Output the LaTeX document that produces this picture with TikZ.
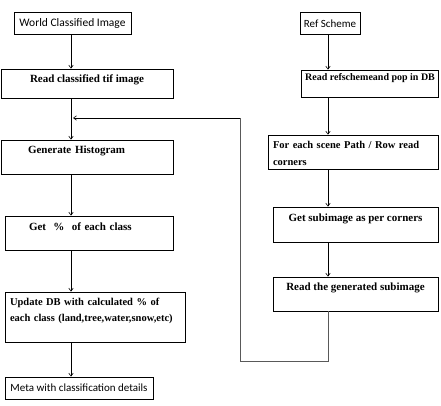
\documentclass[tikz,border=0pt]{standalone}
\usepackage{fontspec}
\setmainfont{Liberation Serif}
\newfontfamily\calfont{Carlito}
\usetikzlibrary{arrows.meta,positioning}

\begin{document}
\begin{tikzpicture}[x=1pt, y=-1pt,
    box/.style={draw, line width=0.8pt, inner ysep=3pt, align=center,
                font=\fontsize{11}{16}\selectfont\bfseries},
    sbox/.style={draw, line width=0.8pt, minimum height=22pt,
                 font=\fontsize{11.5}{13}\selectfont\calfont},
    arr/.style={-{Straight Barb[length=3pt,width=4.5pt]}, line width=0.6pt},
    back/.style={line width=0.8pt, black!65}]
    \useasboundingbox (0,0) rectangle (441,406);

    % left column: classified image
    \node[sbox, minimum width=117pt] (wci) at (72.5,23) {World Classified Image};
    \node[box, minimum width=172pt, text height=11pt, text depth=12pt] (rct) at (87,83.5) {Read classified tif image};
    \node[box, align=left, inner xsep=27pt, text width=118pt, text height=10.5pt, text depth=17.5pt] (gh) at (87,157) {Generate Histogram};
    \node[box, align=left, inner xsep=24pt, text width=120pt, text height=11.5pt, text depth=16.5pt] (gp) at (89,233) {Get~~\%~~of each class};
    \node[box, align=left, inner xsep=5pt, text width=170pt, text height=10.5pt, text depth=33.5pt,
          font=\fontsize{10.5}{16}\selectfont\bfseries] (ud) at (95,317) {Update DB with calculated \% of\\each class (land,tree,water,snow,etc)};
    \node[sbox, minimum width=148pt, font=\fontsize{11}{13}\selectfont\calfont] (meta) at (79,388) {Meta with classification details};

    % right column: ref scheme
    \node[sbox, minimum width=60pt, font=\fontsize{11}{13}\selectfont\calfont] (rs) at (330,23.5) {Ref Scheme};
    \node[box, minimum width=136pt, text height=7.5pt, text depth=13.5pt,
          font=\fontsize{10}{16}\selectfont\bfseries] (rr) at (370,83.5) {Read refschemeand pop in DB};
    \node[box, align=left, inner xsep=5pt, text width=160pt, text height=10.5pt, text depth=17.5pt,
          font=\fontsize{10.5}{17}\selectfont\bfseries] (fe) at (353,152) {For each scene Path / Row read\\corners};
    \node[box, minimum width=165pt, text height=11.5pt, text depth=17.5pt] (gs) at (355.5,224.5) {Get subimage as per corners};
    \node[box, minimum width=165pt, text height=10.5pt, text depth=17.5pt] (rg) at (355.5,294) {Read the generated subimage};

    \coordinate (lx) at (71,0);
    \coordinate (rx) at (328,0);
    \coordinate (fbl) at (240,361);
    \coordinate (merge) at (73,118);

    % arrows
    \draw[arr] (wci.south -| lx) -- (rct.north -| lx);
    \draw[arr] (rct.south -| lx) -- (gh.north -| lx);
    \draw[arr] (gh.south -| lx) -- (gp.north -| lx);
    \draw[arr] (gp.south -| lx) -- (ud.north -| lx);
    \draw[arr] (ud.south -| lx) -- (meta.north -| lx);
    \draw[arr] (rs.south -| rx) -- (rr.north -| rx);
    \draw[arr] (rr.south -| rx) -- (fe.north -| rx);
    \draw[arr] (fe.south -| rx) -- (gs.north -| rx);
    \draw[arr] (gs.south -| rx) -- (rg.north -| rx);

    % loop back to the histogram
    \draw[back] (rg.south -| rx) |- (fbl) -- (fbl |- merge);
    \draw[arr] (fbl |- merge) -- (merge);
\end{tikzpicture}
\end{document}
